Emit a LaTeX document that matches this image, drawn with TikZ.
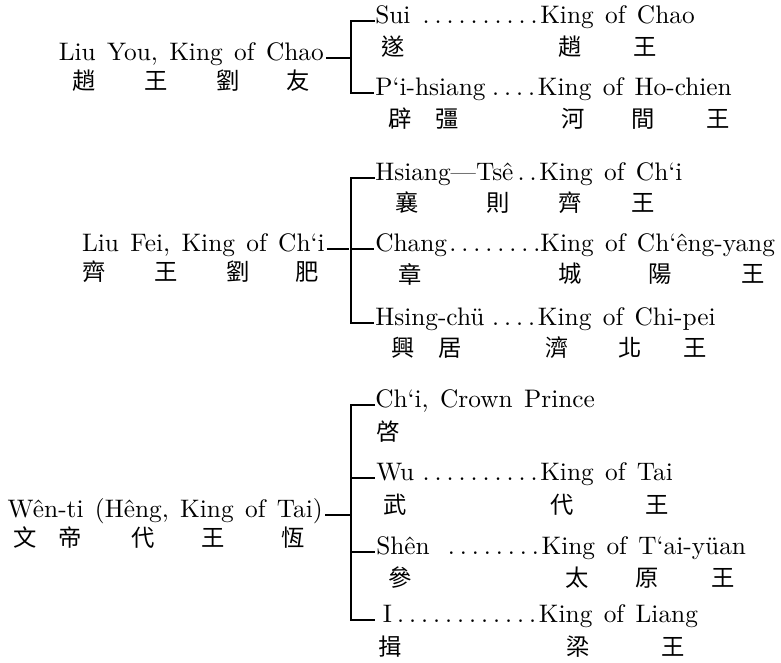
\documentclass[tikz,border=0pt]{standalone}
\usepackage{fontspec}
\newfontfamily\enfont{lmroman10-regular.otf}
\newfontfamily\zhfont{Noto Sans CJK TC}
\newcommand\dts[2][9pt]{\hbox to \dimexpr #1*#2\relax{\leaders\hbox to #1{\hss.\hskip2pt}\hfill}}
\newcommand\lrow[4]{\hbox to #1{#2\hfill\dts{#3}}#4}
\tikzset{
  en/.style={inner sep=0pt, font={\enfont\fontsize{19}{22}\selectfont\spaceskip=0.45em\relax}},
  par/.style={en, anchor=mid east},
  kid/.style={en, anchor=mid west},
  zh/.style={inner sep=0pt, font={\zhfont\fontsize{17.5}{17.5}\selectfont}},
  ln/.style={line width=0.85pt, line join=miter}
}
\begin{document}
\begin{tikzpicture}[x=0.75pt,y=-0.75pt]
\path[use as bounding box, fill=white] (0,0) rectangle (781,663);

% ---------- Group 1 ----------
\node[par] (p1) at (324,58) {Liu You, King of Chao};
\node[zh] (p1a) at (84,81) {趙};
\node[zh] (p1b) at (156,81) {王};
\node[zh] (p1c) at (228,81) {劉};
\node[zh] (p1d) at (298,81) {友};
\coordinate (j1) at (351,58);
\coordinate (t1a) at (351,21);
\coordinate (t1b) at (351,93);
\node[kid] (c1a) at (375,21) {\lrow{123.75pt}{Sui}{10}{King of Chao}};
\node[zh] (c1a1) at (393,47) {遂};
\node[zh] (c1a2) at (570,47) {趙};
\node[zh] (c1a3) at (645,47) {王};
\node[kid] (c1b) at (375,93) {\lrow{122pt}{P‘i-hsiang}{4}{King of Ho-chien}};
\node[zh] (c1b1) at (400,119) {辟};
\node[zh] (c1b2) at (447,119) {彊};
\node[zh] (c1b3) at (573,119) {河};
\node[zh] (c1b4) at (643,119) {間};
\node[zh] (c1b5) at (718,119) {王};
\draw[ln] (p1.mid east) ++(1.5pt,0) -- (j1);
\draw[ln, shorten >=1pt] (c1a.mid west) -- (t1a) -- (t1b) -- (c1b.mid west);

% ---------- Group 2 ----------
\node[par] (p2) at (325,249) {Liu Fei, King of Ch‘i};
\node[zh] (p2a) at (94,272) {齊};
\node[zh] (p2b) at (166,272) {王};
\node[zh] (p2c) at (238,272) {劉};
\node[zh] (p2d) at (307,272) {肥};
\coordinate (j2) at (349,249);
\coordinate (t2a) at (351,178);
\coordinate (t2b) at (351,249);
\coordinate (t2c) at (351,323);
\node[kid] (c2a) at (375,178) {\lrow{123pt}{Hsiang—Tsê}{2}{King of Ch‘i}};
\node[zh] (c2a1) at (407,203) {襄};
\node[zh] (c2a2) at (498,203) {則};
\node[zh] (c2a3) at (570,203) {齊};
\node[zh] (c2a4) at (643,203) {王};
\node[kid] (c2b) at (375,249) {\lrow{123.75pt}{Chang}{8}{King of Ch‘êng-yang}};
\node[zh] (c2b1) at (410,274) {章};
\node[zh] (c2b2) at (570,274) {城};
\node[zh] (c2b3) at (660,274) {陽};
\node[zh] (c2b4) at (753,274) {王};
\node[kid] (c2c) at (375,323) {\lrow{122pt}{Hsing-chü}{4}{King of Chi-pei}};
\node[zh] (c2c1) at (403,348) {興};
\node[zh] (c2c2) at (450,348) {居};
\node[zh] (c2c3) at (557,348) {濟};
\node[zh] (c2c4) at (630,348) {北};
\node[zh] (c2c5) at (695,348) {王};
\draw[ln] (p2.mid east) ++(1.5pt,0) -- (j2);
\draw[ln, shorten >=1pt] (c2a.mid west) -- (t2a) -- (t2c) -- (c2c.mid west);
\draw[ln, shorten >=1pt] (t2b) -- (c2b.mid west);

% ---------- Group 3 ----------
\node[par] (p3) at (323,515) {Wên-ti (Hêng, King of Tai)};
\node[zh] (p3a) at (25,538) {文};
\node[zh] (p3b) at (70,538) {帝};
\node[zh] (p3c) at (143,538) {代};
\node[zh] (p3d) at (213,538) {王};
\node[zh] (p3e) at (293,538) {恆};
\coordinate (j3) at (351,515);
\coordinate (t3a) at (351,405);
\coordinate (t3b) at (351,478);
\coordinate (t3c) at (351,552);
\coordinate (t3d) at (351,620);
\node[kid] (c3a) at (375,405) {Ch‘i, Crown Prince};
\node[zh] (c3a1) at (388,432) {啓};
\node[kid] (c3b) at (376,478) {\lrow{123pt}{Wu}{10}{King of Tai}};
\node[zh] (c3b1) at (395,505) {武};
\node[zh] (c3b2) at (562,505) {代};
\node[zh] (c3b3) at (657,505) {王};
\node[kid] (c3c) at (376,552) {\lrow{124pt}{Shên}{8}{King of T‘ai-yüan}};
\node[zh] (c3c1) at (400,578) {參};
\node[zh] (c3c2) at (577,578) {太};
\node[zh] (c3c3) at (647,578) {原};
\node[zh] (c3c4) at (723,578) {王};
\node[kid] (c3d) at (376,620) {\lrow{122pt}{\hspace{5pt}I}{12}{King of Liang}};
\node[zh] (c3d1) at (390,647) {揖};
\node[zh] (c3d2) at (578,647) {梁};
\node[zh] (c3d3) at (673,647) {王};
\draw[ln] (p3.mid east) ++(1.5pt,0) -- (j3);
\draw[ln, shorten >=1pt] (c3a.mid west) -- (t3a) -- (t3d) -- (c3d.mid west);
\draw[ln, shorten >=1pt] (t3b) -- (c3b.mid west);
\draw[ln, shorten >=1pt] (t3c) -- (c3c.mid west);
\end{tikzpicture}
\end{document}
